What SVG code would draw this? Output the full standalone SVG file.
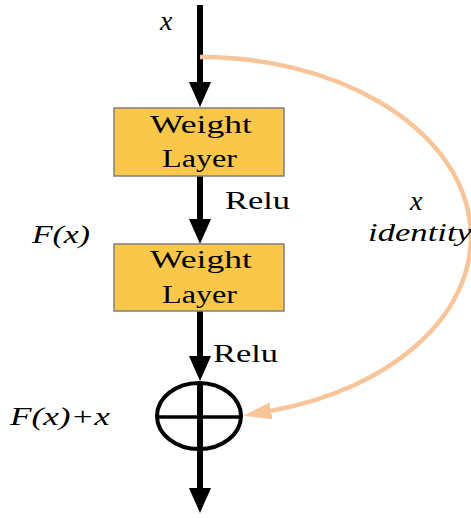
<svg xmlns="http://www.w3.org/2000/svg" width="471" height="518" viewBox="0 0 471 518" font-family="Liberation Serif, Times New Roman, serif">
<style>
.box{fill:#F9C84B;stroke:#7F7F7F;stroke-width:1.5}
.lbl{font-size:26px;fill:#000}
.it{font-style:italic;font-size:25px;fill:#000}
.var{font-style:italic;font-size:28px;fill:#000}
.conn{fill:none;stroke:#000;stroke-width:6}
.skip{fill:none;stroke:#F8C499;stroke-width:4.5}
</style>
<defs>
<marker id="ah" markerUnits="userSpaceOnUse" viewBox="0 0 25 22" refX="5" refY="11" markerWidth="25" markerHeight="22" orient="auto">
<path d="M0,0 L25,11 L0,22 Z" fill="#000"/>
</marker>
<marker id="ao" markerUnits="userSpaceOnUse" viewBox="0 0 28 17" refX="1" refY="8.5" markerWidth="28" markerHeight="17" orient="auto">
<path d="M0,0 L28,8.5 L0,17 Z" fill="#F8C499"/>
</marker>
</defs>
<rect width="471" height="518" fill="#fff"/>
<g id="connectors">
<path class="conn" d="M200,5 V87" marker-end="url(#ah)"/>
<path class="conn" d="M200,176 V224" marker-end="url(#ah)"/>
<path class="conn" d="M200,311 V361" marker-end="url(#ah)"/>
<path class="conn" d="M200,450 V493" marker-end="url(#ah)"/>
<path class="skip" d="M200,57 A270,180 0 0 1 270,411" marker-end="url(#ao)"/>
</g>
<g id="input-label"><text class="var" x="160" y="30">x</text></g>
<g id="weight1">
<rect class="box" x="114" y="108" width="170" height="68"/>
<text class="lbl" x="150" y="133" textLength="102" lengthAdjust="spacingAndGlyphs">Weight</text>
<text class="lbl" x="162" y="167" textLength="75" lengthAdjust="spacingAndGlyphs">Layer</text>
</g>
<g id="relu1"><text class="lbl" x="225" y="209" textLength="65" lengthAdjust="spacingAndGlyphs">Relu</text></g>
<g id="fx"><text class="it" x="32" y="243" textLength="58" lengthAdjust="spacingAndGlyphs">F(x)</text></g>
<g id="weight2">
<rect class="box" x="114" y="244" width="170" height="67"/>
<text class="lbl" x="150" y="268" textLength="102" lengthAdjust="spacingAndGlyphs">Weight</text>
<text class="lbl" x="162" y="303" textLength="75" lengthAdjust="spacingAndGlyphs">Layer</text>
</g>
<g id="relu2"><text class="lbl" x="213" y="362" textLength="65" lengthAdjust="spacingAndGlyphs">Relu</text></g>
<g id="identity">
<text class="var" x="410" y="210">x</text>
<text class="it" x="368" y="241" textLength="104" lengthAdjust="spacingAndGlyphs">identity</text>
</g>
<g id="sum">
<ellipse cx="199" cy="416" rx="42" ry="33" fill="none" stroke="#000" stroke-width="4"/>
<line x1="157" y1="417" x2="241" y2="417" stroke="#000" stroke-width="3.5"/>
<line x1="200" y1="383" x2="200" y2="450" stroke="#000" stroke-width="6"/>
</g>
<g id="sum-label"><text class="it" x="10" y="425" textLength="100" lengthAdjust="spacingAndGlyphs">F(x)+x</text></g>
</svg>
